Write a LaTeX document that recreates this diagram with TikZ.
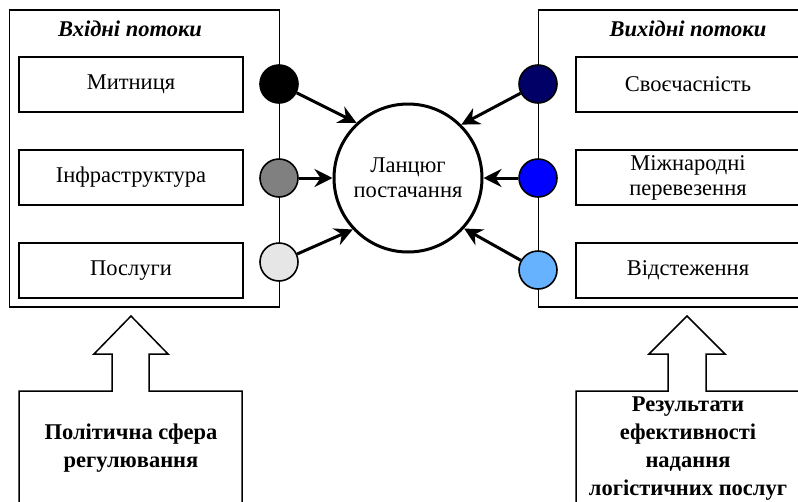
\documentclass[tikz,border=0pt]{standalone}
\usepackage{fontspec}
\setmainfont{Liberation Serif}
\usetikzlibrary{arrows.meta}
\definecolor{navy}{HTML}{000066}
\definecolor{skyblue}{HTML}{66B2FF}
\definecolor{midgray}{HTML}{808080}
\definecolor{palegray}{HTML}{E6E6E6}

\begin{document}
\begin{tikzpicture}[x=1pt,y=-1pt,
	box/.style={draw,line width=1.5pt,minimum width=224pt,minimum height=55pt,inner sep=0pt,align=center,font=\fontsize{22.5}{25}\selectfont},
	frame/.style={draw,line width=1.5pt,minimum width=270pt,minimum height=297pt,inner sep=0pt},
	dot/.style={circle,draw,line width=1.6pt,minimum size=38pt,inner sep=0pt},
	flow/.style={line width=3pt,-{Stealth[length=18pt,width=18pt,inset=6pt]}},
	head/.style={font=\fontsize{22.5}{25}\selectfont\bfseries\itshape},
	base/.style={align=center,font=\fontsize{22.5}{28}\selectfont\bfseries}]
		\useasboundingbox (0,0) rectangle (798,501);
		\clip (0,0) rectangle (798,501);
		% frames
		\node[frame] (inframe) at (144.5,158.5) {};
		\node[frame] (outframe) at (673.5,158.5) {};
		\node[head] (intitle) at (130,29) {Вхідні потоки};
		\node[head] (outtitle) at (688,29) {Вихідні потоки};
		% left boxes
		\node[box] (customs) at (131,84.5) {Митниця};
		\node[box] (infra) at (131,177.5) {Інфраструктура};
		\node[box] (services) at (131,270.5) {Послуги};
		% right boxes
		\node[box] (timely) at (688,84.5) {Своєчасність};
		\node[box] (transport) at (688,177.5) {Міжнародні\\перевезення};
		\node[box] (tracking) at (688,270.5) {Відстеження};
		% dots
		\node[dot,fill=black] (in1) at (279,84) {};
		\node[dot,fill=midgray] (in2) at (279,178) {};
		\node[dot,fill=palegray] (in3) at (279,262) {};
		\node[dot,fill=navy] (out1) at (538,84) {};
		\node[dot,fill=blue] (out2) at (538,178) {};
		\node[dot,fill=skyblue] (out3) at (538,270) {};
		% chain
		\node[circle,draw,line width=3pt,minimum size=148pt,inner sep=0pt,align=center,font=\fontsize{22.5}{25}\selectfont] (chain) at (408,178) {Ланцюг\\постачання};
		\draw[flow] (in1) -- (chain.133);
		\draw[flow] (in2) -- (chain.west);
		\draw[flow] (in3) -- (chain.223);
		\draw[flow] (out1) -- (chain.45);
		\draw[flow] (out2) -- (chain.east);
		\draw[flow] (out3) -- (chain.318);
		% block arrows
		\draw[line width=1.5pt] (19,520) |- (112,391) |- (94,354) -- (131,316) -- (168,354) -| (149,391) -| (242,520);
		\draw[line width=1.5pt] (576,520) |- (668,391) |- (649,354) -- (687,316) -- (725,354) -| (706,391) -| (800,520);
		\node[base] (policy) at (131,448) {Політична сфера\\регулювання};
		\node[base] (results) at (688,449) {Результати\\ефективності\\надання\\логістичних послуг};
	\end{tikzpicture}
\end{document}
